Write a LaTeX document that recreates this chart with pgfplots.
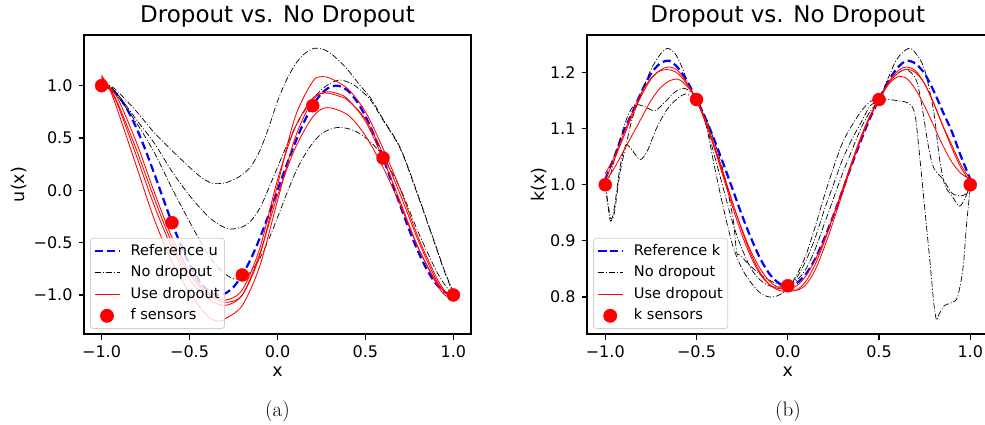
\documentclass[border=0pt]{standalone}
\usepackage{fontspec}
\setsansfont{DejaVu Sans}
\usepackage{pgfplots}
\pgfplotsset{compat=1.18}

\pgfplotsset{
  common/.style={
    scale only axis, height=299pt,
    xmin=-1.1, xmax=1.1,
    axis line style={black, line width=1.1pt},
    tick align=outside, xtick pos=left, ytick pos=left,
    major tick length=5.5pt,
    every tick/.style={black, line width=1.1pt},
    xtick={-1,-0.5,0,0.5,1},
    xticklabels={−1.0,−0.5,0.0,0.5,1.0},
    ticklabel style={font=\fontsize{16}{19}\selectfont\sffamily},
    xticklabel style={anchor=north, inner sep=0pt, yshift=-5.5pt},
    yticklabel style={anchor=east, inner sep=0pt, xshift=-5.8pt},
    title style={font=\fontsize{23}{27}\selectfont\sffamily, at={(0.5,1)}, anchor=base, yshift=6.7pt},
    every axis x label/.style={at={(axis description cs:0.5,0)}, anchor=base, yshift=-42pt, font=\fontsize{17.5}{21}\selectfont\sffamily},
    legend cell align=left,
    legend style={at={(axis description cs:0.0155,0.0167)}, anchor=south west,
      font=\fontsize{14.6}{18}\selectfont\sffamily,
      draw=black!18, line width=0.8pt, rounded corners=3pt,
      fill=white, fill opacity=0.8, text opacity=1,
      inner xsep=3pt, inner ysep=2pt, row sep=0pt,
      /tikz/every odd column/.append style={column sep=8pt},
      nodes={inner ysep=2.8pt, inner xsep=2pt, text height=12pt, text depth=4pt}},
    legend image code/.code={\draw[mark repeat=2,mark phase=2,#1,fill opacity=1,draw opacity=1] plot coordinates {(0pt,0pt) (12.5pt,0pt) (25pt,0pt)};},
  },
  refl/.style={blue, line width=2.2pt, dash pattern=on 8pt off 4pt},
  nod/.style={black, line width=0.7pt, dash pattern=on 6pt off 2pt on 1pt off 2pt, smooth},
  used/.style={red, line width=0.85pt, smooth},
  sens/.style={only marks, mark=*, mark size=6.5pt, red, mark options={draw=red, fill=red}},
}

\begin{document}
\begin{tikzpicture}
\path[use as bounding box] (0pt,0pt) rectangle (985pt,424pt);

% ---------------- (a) ----------------
\begin{axis}[common, at={(84pt,90pt)}, anchor=south west, width=387pt,
  ymin=-1.373, ymax=1.484,
  ytick={-1,-0.5,0,0.5,1}, yticklabels={−1.0,−0.5,0.0,0.5,1.0},
  title={Dropout vs. No Dropout}, xlabel={x},
  every axis y label/.style={at={(axis description cs:-0.1537,0.5)}, rotate=90, anchor=base, font=\fontsize{17.5}{21}\selectfont\sffamily},
  ylabel={u(x)}]
\addplot[refl, smooth] coordinates {(-1,1.0) (-0.95,0.9724) (-0.9,0.891) (-0.85,0.7604) (-0.8,0.5878) (-0.75,0.3827) (-0.7,0.1564) (-0.65,-0.0785) (-0.6,-0.309) (-0.55,-0.5225) (-0.5,-0.7071) (-0.45,-0.8526) (-0.4,-0.9511) (-0.35,-0.9969) (-0.3,-0.9877) (-0.25,-0.9239) (-0.2,-0.809) (-0.15,-0.6494) (-0.1,-0.454) (-0.05,-0.2334) (0,0) (0.05,0.2334) (0.1,0.454) (0.15,0.6494) (0.2,0.809) (0.25,0.9239) (0.3,0.9877) (0.35,0.9969) (0.4,0.9511) (0.45,0.8526) (0.5,0.7071) (0.55,0.5225) (0.6,0.309) (0.65,0.0785) (0.7,-0.1564) (0.75,-0.3827) (0.8,-0.5878) (0.85,-0.7604) (0.9,-0.891) (0.95,-0.9724) (1,-1)};
\addlegendentry{Reference u}
\addplot[nod] coordinates {(-1,1.03) (-0.95,1.0) (-0.9,0.93) (-0.8,0.75) (-0.7,0.55) (-0.6,0.38) (-0.5,0.22) (-0.43,0.12) (-0.37,0.067) (-0.3,0.07) (-0.24,0.11) (-0.2,0.15) (-0.15,0.23) (-0.1,0.38) (-0.05,0.6) (0,0.85) (0.05,1.05) (0.1,1.2) (0.15,1.3) (0.21,1.357) (0.27,1.34) (0.33,1.27) (0.4,1.15) (0.47,1.0) (0.53,0.88) (0.6,0.68) (0.7,0.4) (0.8,-0.05) (0.9,-0.53) (0.95,-0.77) (1,-0.98)};
\addlegendentry{No dropout}
\addplot[nod, forget plot] coordinates {(-1,1.03) (-0.95,0.99) (-0.9,0.9) (-0.8,0.67) (-0.7,0.45) (-0.6,0.18) (-0.5,-0.05) (-0.4,-0.24) (-0.33,-0.33) (-0.27,-0.37) (-0.2,-0.35) (-0.15,-0.29) (-0.1,-0.17) (-0.05,0.02) (0,0.22) (0.05,0.42) (0.1,0.6) (0.15,0.75) (0.2,0.87) (0.27,0.99) (0.35,1.054) (0.42,1.02) (0.47,0.96) (0.53,0.86) (0.6,0.67) (0.7,0.39) (0.8,-0.06) (0.9,-0.54) (0.95,-0.78) (1,-0.99)};
\addplot[nod, forget plot] coordinates {(-1,1.03) (-0.95,0.98) (-0.9,0.88) (-0.8,0.64) (-0.7,0.36) (-0.6,0.02) (-0.5,-0.3) (-0.4,-0.6) (-0.33,-0.75) (-0.27,-0.83) (-0.22,-0.85) (-0.17,-0.81) (-0.11,-0.68) (-0.05,-0.47) (0,-0.26) (0.06,0) (0.11,0.2) (0.17,0.38) (0.23,0.51) (0.28,0.57) (0.34,0.6) (0.4,0.59) (0.46,0.55) (0.53,0.46) (0.6,0.32) (0.7,0.01) (0.8,-0.4) (0.9,-0.76) (0.95,-0.9) (1,-1)};
\addplot[used] coordinates {(-1,1.07) (-0.95,0.98) (-0.9,0.85) (-0.8,0.45) (-0.7,-0.02) (-0.6,-0.45) (-0.5,-0.77) (-0.4,-0.97) (-0.3,-1.05) (-0.2,-0.95) (-0.1,-0.55) (0,0.1) (0.1,0.6) (0.2,0.88) (0.27,0.93) (0.35,0.9) (0.4,0.86) (0.5,0.68) (0.6,0.35) (0.7,-0.05) (0.8,-0.48) (0.9,-0.85) (0.95,-0.97) (1,-1.03)};
\addlegendentry{Use dropout}
\addplot[used, forget plot] coordinates {(-1,1.1) (-0.95,0.95) (-0.9,0.72) (-0.8,0.22) (-0.7,-0.28) (-0.6,-0.68) (-0.5,-0.98) (-0.4,-1.2) (-0.34,-1.25) (-0.3,-1.23) (-0.2,-1.1) (-0.1,-0.72) (0,-0.1) (0.1,0.5) (0.2,0.86) (0.28,0.94) (0.35,0.92) (0.4,0.87) (0.5,0.66) (0.6,0.3) (0.7,-0.12) (0.8,-0.55) (0.9,-0.88) (0.95,-1.0) (1,-1.03)};
\addplot[used, forget plot] coordinates {(-1,1.08) (-0.95,0.97) (-0.9,0.8) (-0.8,0.38) (-0.7,-0.08) (-0.6,-0.5) (-0.5,-0.8) (-0.4,-0.99) (-0.3,-1.07) (-0.2,-1.0) (-0.1,-0.62) (0,0.05) (0.1,0.7) (0.2,1.04) (0.25,1.086) (0.3,1.07) (0.4,0.97) (0.5,0.75) (0.6,0.4) (0.7,0) (0.8,-0.45) (0.9,-0.82) (0.95,-0.96) (1,-1.03)};
\addplot[used, forget plot] coordinates {(-1,1.05) (-0.95,0.96) (-0.9,0.78) (-0.8,0.32) (-0.7,-0.15) (-0.6,-0.55) (-0.5,-0.85) (-0.4,-1.03) (-0.3,-1.1) (-0.2,-1.0) (-0.1,-0.6) (0,-0.05) (0.1,0.4) (0.2,0.7) (0.28,0.79) (0.4,0.72) (0.5,0.52) (0.6,0.22) (0.7,-0.15) (0.8,-0.55) (0.9,-0.87) (0.95,-0.97) (1,-1.02)};
\addplot[sens] coordinates {(-1,1) (-0.6,-0.309) (-0.2,-0.809) (0.2,0.809) (0.6,0.309) (1,-1)};
\addlegendentry{f sensors}
\end{axis}

% ---------------- (b) ----------------
\begin{axis}[common, at={(587pt,90pt)}, anchor=south west, width=401.5pt,
  ymin=0.734, ymax=1.267,
  ytick={0.8,0.9,1.0,1.1,1.2}, yticklabels={0.8,0.9,1.0,1.1,1.2},
  title={Dropout vs. No Dropout}, xlabel={x},
  every axis y label/.style={at={(axis description cs:-0.105,0.5)}, rotate=90, anchor=base, font=\fontsize{17.5}{21}\selectfont\sffamily},
  ylabel={k(x)}]
\addplot[refl, smooth] coordinates {(-1,1.01) (-0.95,1.05) (-0.9,1.094) (-0.85,1.13) (-0.8,1.167) (-0.75,1.198) (-0.7,1.216) (-0.65,1.221) (-0.6,1.208) (-0.55,1.184) (-0.5,1.152) (-0.45,1.118) (-0.4,1.078) (-0.35,1.035) (-0.3,0.99) (-0.25,0.945) (-0.2,0.904) (-0.15,0.868) (-0.1,0.841) (-0.05,0.825) (0,0.82) (0.05,0.825) (0.1,0.841) (0.15,0.868) (0.2,0.904) (0.25,0.945) (0.3,0.99) (0.35,1.035) (0.4,1.078) (0.45,1.118) (0.5,1.152) (0.55,1.184) (0.6,1.208) (0.65,1.221) (0.7,1.216) (0.75,1.198) (0.8,1.167) (0.85,1.13) (0.9,1.094) (0.95,1.05) (1,1.01)};
\addlegendentry{Reference k}
\addplot[nod] coordinates {(-1,1.0) (-0.98,0.95) (-0.97,0.935) (-0.95,0.95) (-0.92,1.02) (-0.88,1.08) (-0.85,1.12) (-0.8,1.165) (-0.75,1.205) (-0.7,1.232) (-0.66,1.243) (-0.62,1.235) (-0.58,1.21) (-0.54,1.175) (-0.5,1.15) (-0.45,1.11) (-0.4,1.05) (-0.35,0.99) (-0.3,0.93) (-0.25,0.885) (-0.2,0.85) (-0.15,0.83) (-0.1,0.82) (-0.05,0.818) (0,0.82) (0.05,0.83) (0.1,0.85) (0.15,0.885) (0.2,0.93) (0.25,0.975) (0.3,1.02) (0.35,1.06) (0.4,1.1) (0.45,1.13) (0.5,1.152) (0.55,1.19) (0.6,1.225) (0.66,1.243) (0.7,1.235) (0.75,1.205) (0.8,1.13) (0.83,1.05) (0.86,1.0) (0.9,0.98) (0.94,0.962) (0.97,0.975) (1,1.0)};
\addlegendentry{No dropout}
\addplot[nod, forget plot] coordinates {(-1,1.0) (-0.97,0.94) (-0.95,0.96) (-0.92,1.03) (-0.89,1.07) (-0.86,1.065) (-0.81,1.045) (-0.77,1.06) (-0.72,1.1) (-0.66,1.135) (-0.6,1.155) (-0.56,1.162) (-0.53,1.158) (-0.5,1.152) (-0.45,1.12) (-0.4,1.075) (-0.35,1.02) (-0.3,0.94) (-0.28,0.88) (-0.26,0.875) (-0.22,0.86) (-0.15,0.84) (-0.1,0.83) (-0.05,0.822) (0,0.82) (0.05,0.835) (0.1,0.865) (0.15,0.905) (0.2,0.955) (0.25,1.0) (0.3,1.045) (0.35,1.08) (0.4,1.11) (0.45,1.14) (0.5,1.152) (0.55,1.18) (0.6,1.198) (0.65,1.205) (0.7,1.19) (0.73,1.15) (0.77,1.07) (0.8,1.03) (0.85,1.01) (0.9,0.985) (0.95,0.98) (0.98,0.985) (1,0.995)};
\addplot[nod, forget plot] coordinates {(-1,1.0) (-0.97,1.02) (-0.93,1.07) (-0.88,1.12) (-0.84,1.142) (-0.79,1.14) (-0.73,1.132) (-0.68,1.145) (-0.62,1.165) (-0.57,1.172) (-0.53,1.165) (-0.5,1.152) (-0.45,1.11) (-0.4,1.03) (-0.35,0.955) (-0.3,0.89) (-0.25,0.85) (-0.2,0.825) (-0.15,0.807) (-0.1,0.8) (-0.05,0.803) (0,0.815) (0.05,0.84) (0.1,0.875) (0.15,0.925) (0.2,0.98) (0.25,1.03) (0.3,1.075) (0.35,1.105) (0.4,1.13) (0.45,1.148) (0.5,1.152) (0.55,1.152) (0.6,1.15) (0.65,1.147) (0.68,1.14) (0.7,1.12) (0.72,1.06) (0.75,0.96) (0.78,0.86) (0.8,0.79) (0.815,0.759) (0.83,0.77) (0.86,0.785) (0.9,0.79) (0.93,0.8) (0.96,0.85) (0.98,0.93) (1,0.995)};
\addplot[used] coordinates {(-1,1.01) (-0.95,1.045) (-0.9,1.085) (-0.85,1.125) (-0.8,1.16) (-0.75,1.188) (-0.7,1.204) (-0.65,1.21) (-0.6,1.203) (-0.55,1.18) (-0.5,1.152) (-0.45,1.11) (-0.4,1.065) (-0.35,1.015) (-0.3,0.965) (-0.25,0.92) (-0.2,0.88) (-0.15,0.85) (-0.1,0.828) (-0.05,0.817) (0,0.815) (0.05,0.82) (0.1,0.838) (0.15,0.866) (0.2,0.902) (0.25,0.945) (0.3,0.99) (0.35,1.037) (0.4,1.082) (0.45,1.12) (0.5,1.152) (0.55,1.182) (0.6,1.202) (0.65,1.21) (0.7,1.203) (0.75,1.18) (0.8,1.145) (0.85,1.105) (0.9,1.065) (0.95,1.03) (1,1.005)};
\addlegendentry{Use dropout}
\addplot[used, forget plot] coordinates {(-1,1.005) (-0.95,1.03) (-0.9,1.06) (-0.85,1.09) (-0.8,1.12) (-0.75,1.15) (-0.7,1.172) (-0.65,1.185) (-0.6,1.188) (-0.55,1.175) (-0.5,1.152) (-0.45,1.115) (-0.4,1.068) (-0.35,1.018) (-0.3,0.966) (-0.25,0.918) (-0.2,0.875) (-0.15,0.843) (-0.1,0.822) (-0.05,0.812) (0,0.81) (0.05,0.813) (0.1,0.828) (0.15,0.858) (0.2,0.898) (0.25,0.945) (0.3,0.992) (0.35,1.04) (0.4,1.085) (0.45,1.123) (0.5,1.152) (0.55,1.178) (0.6,1.192) (0.65,1.19) (0.7,1.17) (0.75,1.14) (0.8,1.105) (0.85,1.07) (0.9,1.04) (0.95,1.02) (1,1.01)};
\addplot[used, forget plot] coordinates {(-1,1.02) (-0.95,1.05) (-0.9,1.09) (-0.85,1.13) (-0.8,1.165) (-0.75,1.19) (-0.7,1.203) (-0.65,1.205) (-0.6,1.198) (-0.55,1.178) (-0.5,1.152) (-0.45,1.113) (-0.4,1.063) (-0.35,1.01) (-0.3,0.958) (-0.25,0.91) (-0.2,0.87) (-0.15,0.84) (-0.1,0.822) (-0.05,0.815) (0,0.815) (0.05,0.812) (0.1,0.822) (0.15,0.848) (0.2,0.888) (0.25,0.935) (0.3,0.985) (0.35,1.035) (0.4,1.08) (0.45,1.12) (0.5,1.152) (0.55,1.18) (0.6,1.198) (0.65,1.206) (0.7,1.2) (0.75,1.18) (0.8,1.145) (0.85,1.105) (0.9,1.07) (0.95,1.035) (1,1.01)};
\addplot[sens] coordinates {(-1,1.0) (-0.5,1.152) (0,0.82) (0.5,1.152) (1,1.0)};
\addlegendentry{k sensors}
\end{axis}

\node[anchor=base, font=\fontsize{21}{25}\selectfont\rmfamily] at (277.5pt,7.3pt) {(a)};
\node[anchor=base, font=\fontsize{21}{25}\selectfont\rmfamily] at (788pt,7.3pt) {(b)};
\end{tikzpicture}
\end{document}
